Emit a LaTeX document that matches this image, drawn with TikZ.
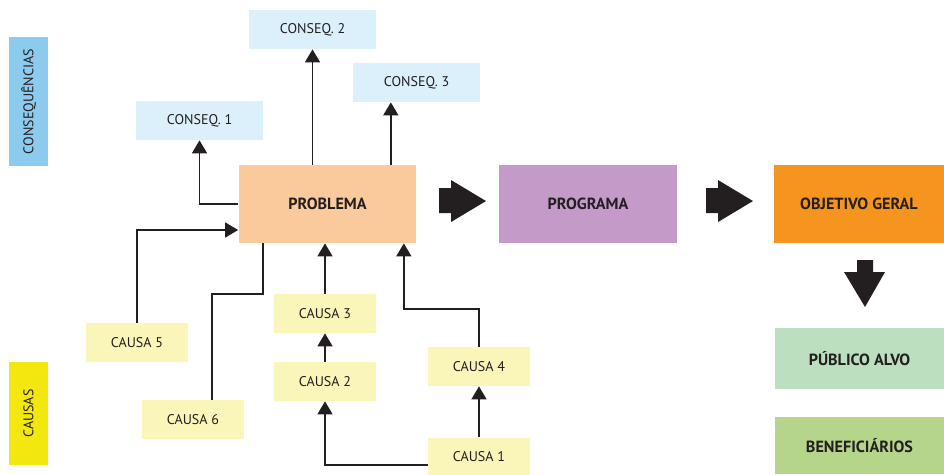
\documentclass[tikz,border=0pt]{standalone}
\usepackage{fontspec}
\setmainfont{PT Sans}
\usepackage{xcolor}
\usepackage{tikz}
\usetikzlibrary{arrows.meta, positioning}

\definecolor{azulClaro}{HTML}{DCF0FB}
\definecolor{azulRotulo}{HTML}{8DCBEE}
\definecolor{amareloClaro}{HTML}{FAF6B9}
\definecolor{amareloRotulo}{HTML}{F2E80F}
\definecolor{pessego}{HTML}{FBCA9C}
\definecolor{lilas}{HTML}{C49BC8}
\definecolor{laranja}{HTML}{F5951F}
\definecolor{verdeClaro}{HTML}{BCDFC0}
\definecolor{verdeMedio}{HTML}{B4D58A}
\definecolor{tinta}{HTML}{231F20}

\tikzset{
  caixa/.style={inner sep=0pt, text=tinta, font=\fontsize{8}{9.6}\selectfont},
  conseq/.style={caixa, fill=azulClaro, minimum width=2.54cm, minimum height=0.78cm},
  causa/.style={caixa, fill=amareloClaro, minimum width=2.04cm, minimum height=0.78cm},
  bloco/.style={caixa, minimum width=3.56cm, minimum height=1.56cm, font=\fontsize{9.2}{11}\selectfont\bfseries},
  rotulo/.style={caixa, rotate=90, minimum width=0.78cm},
  liga/.style={draw=tinta, line width=1pt},
  seta/.style={liga, -{Triangle[length=7.4pt, width=8.5pt]}},
  setagrande/.style={fill=tinta}
}

\begin{document}
\begin{tikzpicture}[x=0.02cm, y=-0.02cm]

    % fixa as margens
    \useasboundingbox (0,0) rectangle (944,474);

    % ==========================================
    % ROTULOS LATERAIS
    % ==========================================
    \node[rotulo, fill=azulRotulo, minimum height=0.78cm, minimum width=2.58cm] (lblConseq) at (28.5,101.5) {CONSEQUÊNCIAS};
    \node[rotulo, fill=amareloRotulo, minimum height=0.78cm, minimum width=2.06cm] (lblCausas) at (28.5,413.5) {CAUSAS};

    % ==========================================
    % CONSEQUENCIAS
    % ==========================================
    \node[conseq] (conseq1) at (199.5,120.5) {CONSEQ. 1};
    \node[conseq] (conseq2) at (312.5,29.5) {CONSEQ. 2};
    \node[conseq] (conseq3) at (416.5,82.5) {CONSEQ. 3};

    % ==========================================
    % CADEIA PRINCIPAL
    % ==========================================
    \node[bloco, fill=pessego] (problema) at (327.5,204) {PROBLEMA};
    \node[bloco, fill=lilas] (programa) at (588,204) {PROGRAMA};
    \node[bloco, fill=laranja, minimum width=3.4cm] (objetivo) at (859,204) {OBJETIVO GERAL};
    \node[bloco, fill=verdeClaro, minimum width=3.38cm, minimum height=1.22cm] (publico) at (859.5,358.5) {PÚBLICO ALVO};
    \node[bloco, fill=verdeMedio, minimum width=3.38cm, minimum height=1.14cm] (beneficiarios) at (859.5,445.5) {BENEFICIÁRIOS};

    % ==========================================
    % CAUSAS
    % ==========================================
    \node[causa] (causa1) at (479,457) {CAUSA 1};
    \node[causa] (causa2) at (325,381.5) {CAUSA 2};
    \node[causa] (causa3) at (325,313.5) {CAUSA 3};
    \node[causa] (causa4) at (479,366.5) {CAUSA 4};
    \node[causa] (causa5) at (137,342.5) {CAUSA 5};
    \node[causa] (causa6) at (193,419.5) {CAUSA 6};

    % ==========================================
    % LIGACOES
    % ==========================================
    % problema -> consequencias
    \draw[seta] (problema.west) -| (conseq1.south);
    \draw[seta] (conseq2.south |- problema.north) -- (conseq2.south);
    \draw[seta] ([xshift=-0.52cm]problema.north east) -- ([xshift=-0.52cm]problema.north east |- conseq3.south);

    % causas -> problema
    \draw[seta] (causa5.north) |- ([yshift=-0.52cm]problema.west);
    \draw[liga] ([xshift=0.5cm]problema.south west) -- ++(0,51) -| ([xshift=0.38cm]causa6.north);
    \draw[seta] (causa3.north) -- (causa3.north |- problema.south);
    \draw[seta] (causa2.north) -- (causa3.south);
    \draw[seta] ([yshift=-0.16cm]causa1.west) -| (causa2.south);
    \draw[seta] (causa1.north) -- (causa4.south);
    \draw[seta] (causa4.north) -- ++(0,-38) -| ([xshift=-0.26cm]problema.south east);

    % setas grandes
    \fill[setagrande] (439,188) -- (451,188) -- (451,180) -- (486,201) -- (451,222) -- (451,213) -- (439,213) -- cycle;
    \fill[setagrande] (706,188) -- (718,188) -- (718,180) -- (753,201) -- (718,222) -- (718,213) -- (706,213) -- cycle;
    \fill[setagrande] (857,260) -- (873,260) -- (873,272) -- (885,272) -- (865,307) -- (844,272) -- (857,272) -- cycle;

\end{tikzpicture}
\end{document}
